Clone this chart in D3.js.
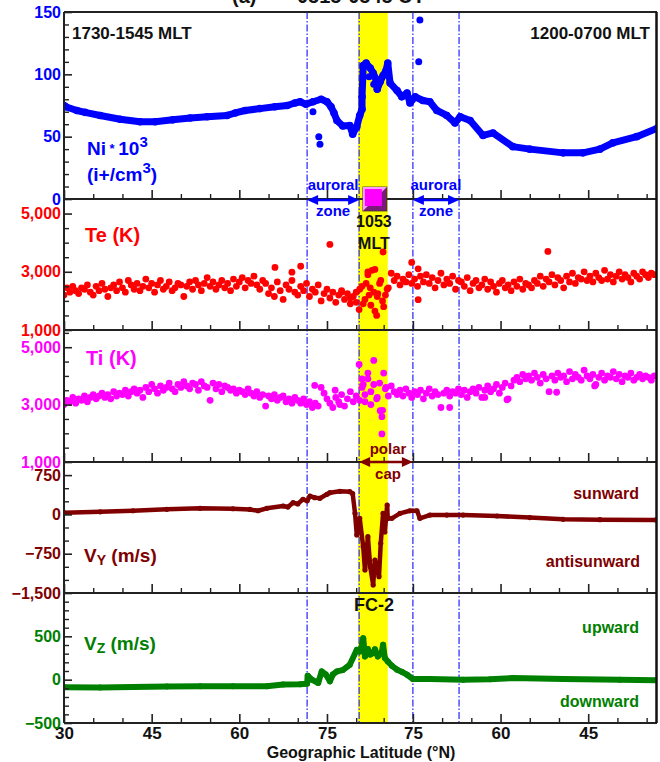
<!DOCTYPE html>
<html>
<head>
<meta charset="utf-8">
<script src="https://cdn.jsdelivr.net/npm/d3@7"></script>
<style>
  body { margin: 0; background: #fff; }
  text { font-family: "Liberation Sans", Arial, sans-serif; font-weight: bold; }
</style>
</head>
<body>
<svg id="chart" width="660" height="762"></svg>
<script>
// ---- along-track geometry: the pass goes up to peakLat and back down ----
const peakLat = 82.35
const endLat = 33.4
const track = (lat, leg) => (leg === 0 ? lat - 30 : 2 * peakLat - 30 - lat)

// x tick labels (latitude) and which leg of the pass they sit on
const xTickLats = [30, 45, 60, 75, 75, 60, 45]
const xTickLegs = [0, 0, 0, 0, 1, 1, 1]
const xMinorLats = [35, 40, 50, 55, 65, 70, 80, 80, 70, 65, 55, 50, 40, 35]
const xMinorLegs = [0, 0, 0, 0, 0, 0, 0, 1, 1, 1, 1, 1, 1, 1]

// boundaries (track degrees): auroral zone / polar cap edges, yellow band
const boundaries = [41.6, 50.5, 59.7, 67.6]
const bandRange = [50.3, 55.4]
const mltMark = 53.2

// y tick labels
const niTicks = [0, 50, 100, 150]
const teTicks = [1000, 3000, 5000]
const tiTicks = [1000, 3000, 5000]
const vyTicks = [-1500, -750, 0, 750]
const vzTicks = [-500, 0, 500]

// Ni * 10^3 (track, value)
const niData = [
  [0, 75], [0.3, 74], [2.2, 71], [3.6, 69.5], [6.2, 67], [9.6, 64], [13.0, 62], [15.6, 62],
  [18.6, 63.5], [21.6, 65], [24.5, 66], [27.9, 67], [29.3, 69], [31.0, 71], [33.5, 72.5],
  [36.1, 74], [38.2, 75], [39.5, 77], [40.4, 78], [41.4, 76], [42.6, 78], [44.0, 80],
  [45.0, 78], [45.7, 74], [46.2, 69], [46.7, 63], [47.7, 58.5], [48.9, 59], [49.4, 52],
  [50.1, 58], [50.6, 67], [51.0, 72], [51.0, 82], [51.2, 107], [51.7, 109], [52.4, 105],
  [52.9, 101], [53.4, 96], [53.6, 88], [54.1, 94], [54.6, 99], [55.1, 103], [55.4, 109],
  [55.8, 93], [57.0, 87], [57.8, 82], [58.7, 85], [59.2, 77], [60.1, 82], [61.4, 79],
  [62.6, 78], [63.8, 71], [65.5, 67], [66.9, 61], [67.8, 66], [69.5, 63], [71.7, 51],
  [73.4, 53], [76.8, 42], [79.7, 40], [85.4, 37], [88.8, 37], [91.7, 40], [93.9, 45],
  [98.0, 50], [101.6, 57]
]
const niOutliers = [[42.6, 70], [43.6, 50], [43.8, 44], [60.9, 143.5], [60.7, 110], [52.2, 98], [53.0, 92]]

// Te (K), sampled every 0.5 track degrees from 0
const sampleStep = 0.5
const teValues = [
  2200, 2450, 2300, 2500, 2350, 2250, 2450, 2400, 2550, 2300, 2200, 2500, 2350, 2600, 2400, 2150, 2450, 2550, 2350, 2650,
  2450, 2300, 2700, 2550, 2400, 2600, 2350, 2500, 2750, 2450, 2600, 2300, 2550, 2700, 2400, 2500, 2650, 2350, 2450, 2600,
  2550, 2150, 2500, 2650, 2400, 2700, 2550, 2350, 2600, 2800, 2500, 2650, 2400, 2550, 2700, 2450, 2600, 2350, 2750, 2500,
  2650, 2800, 2450, 2700, 2600, 2850, 2550, 2400, 2700, 2600, 2250, 2450, 2150, 2650, 2350, 2050, 2550, 2400, 2700, 2300,
  2200, 2500, 2350, 2600, 2150, 2400, 2300, 2550, 2000, 2250, 2400, 2100, 2300, 1950, 2200, 2350, 2050, 2250, 1900, 2150,
  2300, 1700, 2500, 2050, 2900, 1850, 2300, 1500, 2600, 2000, 2200, 2450, 2950, 2700, 2850, 2550, 2750, 2650, 2900, 2600,
  2750, 2500, 2850, 2650, 2900, 2600, 2800, 2450, 2700, 2950, 2550, 2750, 2600, 2850, 2400, 2700, 2650, 2500, 2800, 2350,
  2600, 2700, 2450, 2550, 2750, 2400, 2650, 2500, 2300, 2600, 2700, 2450, 2550, 2350, 2650, 2500, 2750, 2400, 2600, 2550,
  2450, 2700, 2600, 2850, 2500, 2750, 2650, 2900, 2550, 2800, 2700, 2450, 2850, 2650, 2950, 2600, 2800, 2750, 3000, 2700,
  2850, 2650, 2950, 2800, 2700, 3050, 2750, 2900, 2650, 2850, 3000, 2750, 2900, 2800, 2650, 2950, 2850, 2750, 3000, 2900,
  2800, 2950, 2900
]
const teExtra = [
  [50.6, 2400], [51.2, 1900], [51.7, 2600], [52.2, 2200], [52.7, 3050], [53.2, 1650], [53.7, 2250],
  [54.2, 2700], [54.7, 1800], [55.3, 2400], [54.6, 3680], [53.2, 3080], [52.0, 3000], [52.4, 2450],
  [53.6, 2150], [45.5, 3940], [36.1, 3150], [39.0, 2985], [40.5, 3190], [59.5, 3320], [60.6, 3100],
  [60.6, 2040], [82.8, 3700], [49.0, 2100], [50.0, 1950], [47.5, 2300]
]

// Ti (K), same sampling
const tiValues = [
  3000, 3150, 3100, 3250, 3050, 3200, 3150, 3300, 3100, 3250, 3350, 3200, 3300, 3400, 3250, 3350, 3200, 3450, 3300, 3400,
  3350, 3500, 3300, 3450, 3550, 3400, 3500, 3250, 3600, 3450, 3700, 3550, 3400, 3650, 3500, 3600, 3750, 3550, 3450, 3700,
  3600, 3800, 3650, 3550, 3750, 3700, 3500, 3800, 3650, 3600, 3150, 3750, 3550, 3700, 3450, 3650, 3600, 3500, 3550, 3400,
  3500, 3450, 3350, 3550, 3400, 3300, 3450, 3250, 3350, 2950, 3300, 3200, 3350, 3150, 3250, 3300, 3100, 3200, 3050, 3250,
  3150, 3050, 3200, 3000, 3100, 2900, 3050, 2950, 3600, 3400, 3200, 3050, 2900, 3250, 3100, 3350, 2950, 3200, 3450, 3100,
  3300, 4400, 3600, 3100, 3900, 3450, 4540, 3200, 3750, 2800, 3550, 3300, 3650, 3450, 3350, 3500, 3300, 3550, 3400, 3250,
  3450, 3350, 3500, 3200, 3400, 3550, 3300, 3450, 3350, 2900, 3400, 3500, 3300, 3450, 3400, 3550, 3350, 3500, 3250, 3450,
  3550, 3400, 3600, 3250, 3500, 3650, 3450, 3550, 3700, 3400, 3600, 3750, 3200, 3650, 3850, 3950, 3800, 4050, 3900, 4000,
  3850, 4100, 3950, 3750, 4050, 3900, 3450, 4000, 3850, 4100, 3950, 4000, 3800, 4150, 3900, 4050, 3950, 3850, 4200, 4000,
  3900, 4050, 3700, 3950, 4100, 3850, 4000, 3950, 4150, 3900, 4050, 3800, 4000, 3950, 4100, 3850, 3950, 4050, 3900, 4000,
  3950, 3850, 4000
]
const tiExtra = [
  [51.0, 3900], [51.5, 3350], [52.0, 4100], [52.5, 3000], [53.0, 3700], [53.6, 3250], [54.1, 2790],
  [54.4, 2580], [54.4, 1980], [54.7, 4100], [55.1, 3600], [50.6, 3150], [51.2, 3700], [42.9, 3670],
  [46.4, 3500], [47.2, 3000], [66.0, 2900], [72.0, 3250], [75.8, 3170], [84.3, 3430], [90.8, 3650]
]

// Vy (m/s) (track, value)
const vyData = [
  [0, 33], [6.2, 50], [11.8, 70], [17.6, 97], [23.3, 116], [28.9, 108], [31.8, 95], [33.2, 70],
  [34.7, 116], [37.5, 160], [38.3, 140], [39.2, 223], [40.0, 200], [40.9, 288], [41.6, 260],
  [42.1, 351], [42.9, 320], [43.8, 307], [45.0, 383], [45.5, 414], [47.2, 440], [48.9, 433],
  [49.4, 396], [49.8, 20], [50.1, -393], [50.6, -75], [51.2, -616], [51.5, -1061], [52.0, -425],
  [52.4, -998], [52.9, -1347], [53.2, -870], [53.6, -1061], [53.9, -1188], [54.2, -552],
  [54.6, 20], [54.9, -336], [55.3, 179], [55.4, -80], [56.1, -75], [57.5, 20], [59.2, 70],
  [60.4, 70], [60.9, -75], [62.6, -12], [65.5, -12], [68.3, -12], [74.1, -31], [79.7, -60],
  [85.4, -94], [91.7, -100], [101.3, -106]
]

// Vz (m/s) (track, value)
const vzData = [
  [0, -88], [6.2, -90], [11.8, -84], [17.6, -80], [23.3, -77], [28.9, -75], [34.7, -77],
  [37.5, -57], [40.4, -52], [41.6, -46], [41.7, 46], [42.4, 0], [43.5, -38], [44.1, 95],
  [44.8, 60], [45.5, -19], [46.0, 60], [46.7, 95], [47.7, 111], [48.9, 172], [50.1, 345],
  [50.6, 326], [51.0, 400], [51.2, 479], [51.5, 268], [52.0, 353], [52.4, 290], [52.9, 307],
  [53.2, 350], [53.7, 268], [54.1, 300], [54.4, 326], [54.6, 402], [54.9, 249], [55.4, 211],
  [56.1, 160], [57.0, 115], [57.8, 90], [58.7, 57], [59.7, 8], [62.6, 8], [68.3, 0],
  [72.9, 5], [76.8, 19], [85.4, 8], [95.1, 0], [101.3, -8]
]

// ---------------------------------------------------------------------
const svg = d3.select('#chart')
const x = d3.scaleLinear().domain([0, track(endLat, 1)]).range([64, 656])
const plotTop = 12, plotBottom = 723
const fmt = d3.format(',')

const panels = [
  { id: 'ni', top: 12, bottom: 199, domain: [0, 150], ticks: niTicks, minor: 10, color: '#0000ff' },
  { id: 'te', top: 199, bottom: 330, domain: [1000, 5500], ticks: teTicks, minor: 500, color: '#ff0000' },
  { id: 'ti', top: 330, bottom: 462, domain: [1000, 5600], ticks: tiTicks, minor: 500, color: '#ff00ff' },
  { id: 'vy', top: 462, bottom: 593, domain: [-1500, 1000], ticks: vyTicks, minor: 250, color: '#800000' },
  { id: 'vz', top: 593, bottom: 723, domain: [-500, 1000], ticks: vzTicks, minor: 100, color: '#008000' }
]
panels.forEach((p) => {
  p.y = d3.scaleLinear().domain(p.domain).range([p.bottom, p.top])
})
const P = Object.fromEntries(panels.map((p) => [p.id, p]))

const defs = svg.append('defs')
panels.forEach((p) => {
  defs.append('clipPath').attr('id', 'clip-' + p.id)
    .append('rect').attr('x', 64).attr('y', p.top).attr('width', 592).attr('height', p.bottom - p.top)
})

// yellow polar band and boundary lines
svg.append('rect')
  .attr('x', x(bandRange[0])).attr('y', plotTop)
  .attr('width', x(bandRange[1]) - x(bandRange[0])).attr('height', plotBottom - plotTop)
  .attr('fill', '#ffff00')

svg.selectAll('.bound').data(boundaries).enter().append('line')
  .attr('class', 'bound')
  .attr('x1', (d) => x(d)).attr('x2', (d) => x(d))
  .attr('y1', plotTop).attr('y2', plotBottom)
  .attr('stroke', '#3333ff').attr('stroke-width', 1.3)
  .attr('stroke-dasharray', '7,2,1.5,2')

// ---- data ----
const sampled = (vals) => vals.map((v, i) => [i * sampleStep, v])

function lineSeries(p, data, width, r) {
  const g = svg.append('g').attr('clip-path', 'url(#clip-' + p.id + ')')
  const line = d3.line().x((d) => x(d[0])).y((d) => p.y(d[1]))
  g.append('path').datum(data).attr('d', line)
    .attr('fill', 'none').attr('stroke', p.color).attr('stroke-width', width)
    .attr('stroke-linejoin', 'round').attr('stroke-linecap', 'round')
  g.selectAll('circle').data(data).enter().append('circle')
    .attr('cx', (d) => x(d[0])).attr('cy', (d) => p.y(d[1])).attr('r', r)
    .attr('fill', p.color)
  return g
}

function dots(p, data, r) {
  svg.append('g').attr('clip-path', 'url(#clip-' + p.id + ')')
    .selectAll('circle').data(data).enter().append('circle')
    .attr('cx', (d) => x(d[0])).attr('cy', (d) => p.y(d[1])).attr('r', r)
    .attr('fill', p.color)
}

lineSeries(P.ni, niData, 7, 3.8)
dots(P.ni, niOutliers, 3.5)
dots(P.te, sampled(teValues), 3.4)
dots(P.te, teExtra, 3.4)
dots(P.ti, sampled(tiValues), 3.4)
dots(P.ti, tiExtra, 3.4)
lineSeries(P.vy, vyData, 4.5, 2.6)
lineSeries(P.vz, vzData, 6, 3)

// ---- axes ----
const xMajor = xTickLats.map((l, i) => track(l, xTickLegs[i]))
const xMinor = xMinorLats.map((l, i) => track(l, xMinorLegs[i]))

panels.forEach((p, k) => {
  const last = k === panels.length - 1
  const gx = svg.append('g').attr('transform', 'translate(0,' + p.bottom + ')')
    .call(d3.axisBottom(x).tickValues(xMajor).tickSize(-9).tickPadding(4)
      .tickFormat((d, i) => (last ? xTickLats[i] : '')))
  gx.select('.domain').remove()
  gx.selectAll('line').attr('stroke', '#222').attr('stroke-width', 1.6)
  gx.selectAll('text').attr('font-size', 17).attr('fill', '#111')
  const gm = svg.append('g').attr('transform', 'translate(0,' + p.bottom + ')')
    .call(d3.axisBottom(x).tickValues(xMinor).tickSize(-5).tickFormat(''))
  gm.select('.domain').remove()
  gm.selectAll('line').attr('stroke', '#222').attr('stroke-width', 1.4)

  const gy = svg.append('g').attr('transform', 'translate(64,0)')
    .call(d3.axisLeft(p.y).tickValues(p.ticks).tickSize(-8).tickPadding(3).tickFormat(fmt))
  gy.select('.domain').remove()
  gy.selectAll('line').attr('stroke', '#222').attr('stroke-width', 1.6)
  gy.selectAll('text').attr('font-size', 16).attr('fill', p.color)
  const minorVals = d3.range(p.domain[0], p.domain[1], p.minor).filter((v) => !p.ticks.includes(v))
  const gym = svg.append('g').attr('transform', 'translate(64,0)')
    .call(d3.axisLeft(p.y).tickValues(minorVals).tickSize(-5).tickFormat(''))
  gym.select('.domain').remove()
  gym.selectAll('line').attr('stroke', '#222').attr('stroke-width', 1.4)

  // bottom frame line
  svg.append('line').attr('x1', 64).attr('x2', 657).attr('y1', p.bottom).attr('y2', p.bottom)
    .attr('stroke', '#222').attr('stroke-width', 2)
})
// outer frame
svg.append('line').attr('x1', 64).attr('x2', 657).attr('y1', plotTop).attr('y2', plotTop)
  .attr('stroke', '#222').attr('stroke-width', 2)
svg.append('line').attr('x1', 64).attr('x2', 64).attr('y1', plotTop).attr('y2', plotBottom)
  .attr('stroke', '#222').attr('stroke-width', 2)
svg.append('line').attr('x1', 656.5).attr('x2', 656.5).attr('y1', plotTop).attr('y2', plotBottom)
  .attr('stroke', '#111').attr('stroke-width', 2.5)

// ---- annotations ----
function label(xp, yp, str, size, color, anchor) {
  return svg.append('text').attr('x', xp).attr('y', yp).attr('font-size', size)
    .attr('fill', color).attr('text-anchor', anchor || 'start').text(str)
}

function doubleArrow(x1, x2, y, color) {
  const h = 11, w = 5
  svg.append('line').attr('x1', x1 + h - 1).attr('x2', x2 - h + 1).attr('y1', y).attr('y2', y)
    .attr('stroke', color).attr('stroke-width', 2.5)
  svg.append('path').attr('d', `M${x1},${y}L${x1 + h},${y - w}L${x1 + h},${y + w}Z`).attr('fill', color)
  svg.append('path').attr('d', `M${x2},${y}L${x2 - h},${y - w}L${x2 - h},${y + w}Z`).attr('fill', color)
}

// title (cut by the top edge, as in the original figure)
label(232, 3, '(a)', 20, '#111')
label(297, 3, '0515-0545 UT', 20, '#111')

label(72, 39, '1730-1545 MLT', 17, '#111')
label(650, 39, '1200-0700 MLT', 17, '#111', 'end')

const ni1 = label(87, 155, 'Ni', 19, '#0000ff')
ni1.append('tspan').attr('font-size', 13).attr('dy', -2).text(' * ')
ni1.append('tspan').attr('font-size', 19).attr('dy', 2).text('10')
ni1.append('tspan').attr('font-size', 15).attr('dy', -8).text('3')
const ni2 = label(87, 181, '(i+/cm', 19, '#0000ff')
ni2.append('tspan').attr('font-size', 15).attr('dy', -8).text('3')
ni2.append('tspan').attr('dy', 8).text(')')

doubleArrow(x(boundaries[0]), x(boundaries[1]), 200, '#0000ff')
doubleArrow(x(boundaries[2]), x(boundaries[3]), 200, '#0000ff')
label((x(boundaries[0]) + x(boundaries[1])) / 2, 190, 'auroral', 15, '#0000ff', 'middle')
label((x(boundaries[0]) + x(boundaries[1])) / 2, 216, 'zone', 15, '#0000ff', 'middle')
label((x(boundaries[2]) + x(boundaries[3])) / 2, 190, 'auroral', 15, '#0000ff', 'middle')
label((x(boundaries[2]) + x(boundaries[3])) / 2, 216, 'zone', 15, '#0000ff', 'middle')

// magenta MLT marker (bevelled square)
const mx = x(mltMark), my = P.ni.y(0)
svg.append('rect').attr('x', mx - 12).attr('y', my - 12).attr('width', 24).attr('height', 24)
  .attr('fill', '#7a1a7a').attr('stroke', '#333').attr('stroke-width', 0.8)
svg.append('path').attr('d', `M${mx - 12},${my - 12}L${mx + 12},${my - 12}L${mx + 7},${my - 7}L${mx - 7},${my - 7}L${mx - 7},${my + 7}L${mx - 12},${my + 12}Z`)
  .attr('fill', '#ff9cff')
svg.append('rect').attr('x', mx - 10).attr('y', my - 10).attr('width', 17).attr('height', 17)
  .attr('fill', '#ff00ff')
label(mx - 1, 227, '1053', 16, '#111', 'middle')
label(mx - 1, 249, 'MLT', 16, '#111', 'middle')

label(85, 242, 'Te (K)', 20, '#ff0000')
label(86, 365, 'Ti (K)', 20, '#ff00ff')

doubleArrow(x(boundaries[1]), x(boundaries[2]), 462, '#800000')
label((x(boundaries[1]) + x(boundaries[2])) / 2 + 2, 454, 'polar', 15, '#800000', 'middle')
label((x(boundaries[1]) + x(boundaries[2])) / 2 + 2, 479, 'cap', 15, '#800000', 'middle')

const vy = label(84, 562, 'V', 19, '#800000')
vy.append('tspan').attr('font-size', 14).attr('dy', 3).text('Y')
vy.append('tspan').attr('dy', -3).text(' (m/s)')
label(639, 499, 'sunward', 16, '#800000', 'end')
label(640, 567, 'antisunward', 16, '#800000', 'end')

label(mx - 1, 611, 'FC-2', 18, '#111', 'middle')
const vz = label(84, 650, 'V', 19, '#008000')
vz.append('tspan').attr('font-size', 14).attr('dy', 3).text('Z')
vz.append('tspan').attr('dy', -3).text(' (m/s)')
label(639, 633, 'upward', 16, '#008000', 'end')
label(639, 707, 'downward', 16, '#008000', 'end')

label(361, 758, 'Geographic Latitude (°N)', 16, '#111', 'middle')
</script>
</body>
</html>
